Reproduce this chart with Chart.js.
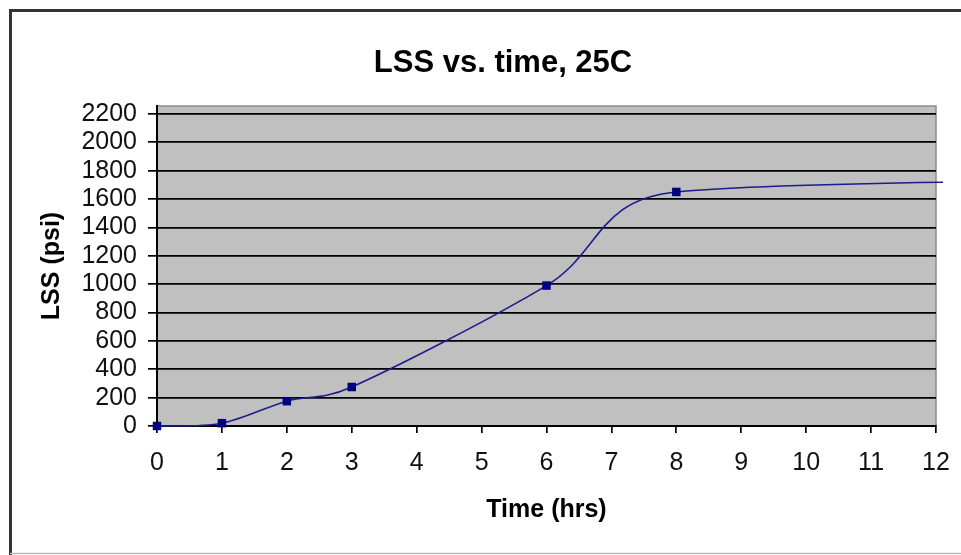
<!DOCTYPE html>
<html>
<head>
<meta charset="utf-8">
<script src="https://cdn.jsdelivr.net/npm/chart.js@4.4.1/dist/chart.umd.min.js"></script>
<style>
  html, body { margin: 0; padding: 0; background: #fff; }
  #wrap { width: 961px; height: 555px; }
</style>
</head>
<body>
<div id="wrap"><canvas id="lss" width="961" height="555"></canvas></div>
<script>
// hours after mixing, LSS readings (psi); last point lies past the 12 h axis end
const timeHrs = [0, 1, 2, 3, 6, 8, 24];
const lssPsi = [0, 20, 175, 275, 990, 1650, 1730];
const markerShown = [true, true, true, true, true, true, false];
const yTicks = [0, 200, 400, 600, 800, 1000, 1200, 1400, 1600, 1800, 2000, 2200];
const xTicks = [0, 1, 2, 3, 4, 5, 6, 7, 8, 9, 10, 11, 12];

const FONT = 'Liberation Sans, Arial, Helvetica, sans-serif';

const excelLook = {
    id: 'excelLook',
    beforeDraw(chart) {
        const { ctx, chartArea: a } = chart;
        ctx.save();
        // outer frame
        ctx.strokeStyle = '#333';
        ctx.lineWidth = 3;
        ctx.beginPath();
        ctx.moveTo(961, 10.5);
        ctx.lineTo(10.5, 10.5);
        ctx.lineTo(10.5, 555);
        ctx.stroke();
        ctx.strokeStyle = '#bbb';
        ctx.lineWidth = 1.5;
        ctx.beginPath();
        ctx.moveTo(10, 553.5);
        ctx.lineTo(961, 553.5);
        ctx.stroke();
        // plot fill
        ctx.fillStyle = '#c0c0c0';
        ctx.fillRect(a.left, a.top, a.right - a.left, a.bottom - a.top);
        ctx.strokeStyle = '#8a8a8a';
        ctx.lineWidth = 1.5;
        ctx.beginPath();
        ctx.moveTo(a.left, a.top);
        ctx.lineTo(a.right, a.top);
        ctx.lineTo(a.right, a.bottom);
        ctx.stroke();
        // title
        ctx.fillStyle = '#000';
        ctx.font = 'bold 31px ' + FONT;
        ctx.textAlign = 'center';
        ctx.textBaseline = 'middle';
        ctx.fillText('LSS vs. time, 25C', 503, 63);
        ctx.restore();
    },
    // Excel style smoothing: tangent (next - prev) / 6, capped at half the segment
    beforeDatasetsDraw(chart) {
        const dist = (a, b) => Math.hypot(b.x - a.x, b.y - a.y);
        chart.data.datasets.forEach((ds, di) => {
            const meta = chart.getDatasetMeta(di);
            const pts = meta.data;
            const n = pts.length;
            for (let i = 0; i < n - 1; i++) {
                const p0 = pts[Math.max(i - 1, 0)];
                const p1 = pts[i];
                const p2 = pts[i + 1];
                const p3 = pts[Math.min(i + 2, n - 1)];
                const half = dist(p1, p2) / 2;
                const d02 = dist(p0, p2);
                const d13 = dist(p1, p3);
                const f0 = d02 / 6 < half ? 1 / 6 : half / d02;
                const f1 = d13 / 6 < half ? 1 / 6 : half / d13;
                p1.cp2x = p1.x + (p2.x - p0.x) * f0;
                p1.cp2y = p1.y + (p2.y - p0.y) * f0;
                p2.cp1x = p2.x - (p3.x - p1.x) * f1;
                p2.cp1y = p2.y - (p3.y - p1.y) * f1;
            }
            if (meta.dataset) {
                meta.dataset._pointsUpdated = true;
                meta.dataset._path = undefined;
            }
        });
    }
};

const points = timeHrs.map((t, i) => ({ x: t, y: lssPsi[i] }));

new Chart(document.getElementById('lss'), {
    type: 'scatter',
    data: {
        datasets: [{
            data: points,
            showLine: true,
            borderColor: '#1c1c8c',
            borderWidth: 1.6,
            tension: 0.3,
            capBezierPoints: false,
            pointStyle: 'rect',
            pointRadius: markerShown.map(m => m ? 6 : 0),
            pointBackgroundColor: '#000080',
            pointBorderColor: '#000080',
            pointBorderWidth: 0,
            clip: { left: false, top: false, bottom: false, right: 7 }
        }]
    },
    options: {
        responsive: false,
        animation: false,
        events: [],
        layout: { padding: { top: 106, right: 25, left: 0, bottom: 0 } },
        plugins: {
            legend: { display: false },
            tooltip: { enabled: false }
        },
        scales: {
            x: {
                type: 'linear',
                min: 0,
                max: 12,
                afterFit(scale) {
                    scale.height = 129;
                    scale.paddingLeft = 0;
                    scale.paddingRight = 0;
                },
                afterBuildTicks(scale) { scale.ticks = xTicks.map(v => ({ value: v })); },
                border: { color: '#000', width: 2 },
                grid: { drawOnChartArea: false, color: '#000', tickLength: 7, lineWidth: 1.7 },
                ticks: {
                    autoSkip: false,
                    maxRotation: 0,
                    color: '#111',
                    padding: 15,
                    font: { family: FONT, size: 25 },
                    callback: v => String(v)
                },
                title: {
                    display: true,
                    text: 'Time (hrs)',
                    color: '#000',
                    font: { family: FONT, size: 25, weight: 'bold' },
                    padding: { top: 0, bottom: 30 }
                }
            },
            y: {
                min: 0,
                max: 2256,
                afterFit(scale) {
                    scale.width = 157;
                    scale.paddingTop = 0;
                    scale.paddingBottom = 0;
                },
                afterBuildTicks(scale) { scale.ticks = yTicks.map(v => ({ value: v })); },
                border: { color: '#000', width: 2 },
                grid: { color: '#000', tickLength: 9, lineWidth: 1.7 },
                ticks: {
                    autoSkip: false,
                    color: '#111',
                    padding: 11,
                    font: { family: FONT, size: 25 },
                    callback: v => String(v)
                },
                title: {
                    display: true,
                    text: 'LSS (psi)',
                    color: '#000',
                    font: { family: FONT, size: 25, weight: 'bold' },
                    padding: { top: 37, bottom: 0 }
                }
            }
        }
    },
    plugins: [excelLook]
});
</script>
</body>
</html>
